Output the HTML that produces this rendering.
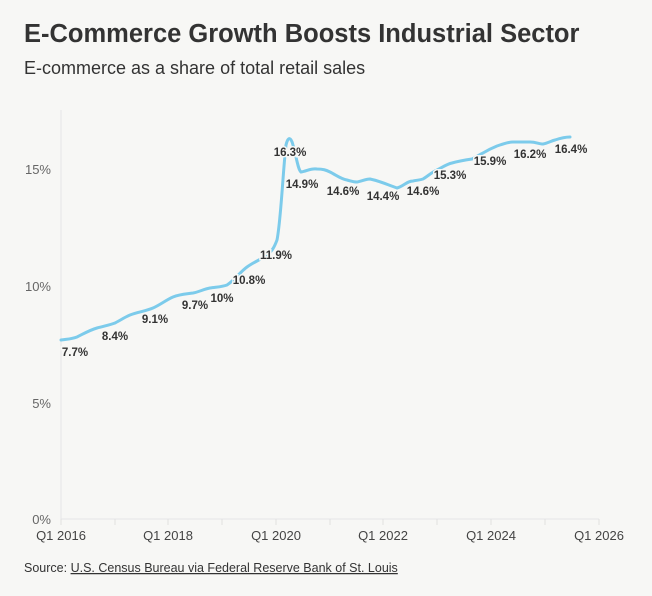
<!DOCTYPE html>
<html><head><meta charset="utf-8"><style>
body{margin:0;background:#f7f7f5;width:652px;height:591px;overflow:hidden;font-family:"Liberation Sans",sans-serif;}
</style></head><body>
<svg width="652" height="591" xmlns="http://www.w3.org/2000/svg" font-family="Liberation Sans, sans-serif">
<text x="24" y="42" font-size="25.5" font-weight="bold" fill="#333">E-Commerce Growth Boosts Industrial Sector</text>
<text x="24" y="74" font-size="18" fill="#333">E-commerce as a share of total retail sales</text>
<line x1="61" y1="110" x2="61" y2="519" stroke="#e6e6e6"/>
<line x1="61" y1="519" x2="599" y2="519" stroke="#e6e6e6"/>
<g stroke="#e0e0e0">
<line x1="61" y1="519" x2="61" y2="525"/><line x1="115" y1="519" x2="115" y2="525"/><line x1="168" y1="519" x2="168" y2="525"/><line x1="222" y1="519" x2="222" y2="525"/><line x1="276" y1="519" x2="276" y2="525"/><line x1="330" y1="519" x2="330" y2="525"/><line x1="383" y1="519" x2="383" y2="525"/><line x1="437" y1="519" x2="437" y2="525"/><line x1="491" y1="519" x2="491" y2="525"/><line x1="545" y1="519" x2="545" y2="525"/><line x1="599" y1="519" x2="599" y2="525"/>
</g>
<g font-size="13" fill="#666" text-anchor="end">
<text x="51" y="174">15%</text><text x="51" y="291">10%</text><text x="51" y="408">5%</text><text x="51" y="524">0%</text>
</g>
<g font-size="13" fill="#444" text-anchor="middle">
<text x="61" y="540">Q1 2016</text><text x="168" y="540">Q1 2018</text><text x="276" y="540">Q1 2020</text><text x="383" y="540">Q1 2022</text><text x="491" y="540">Q1 2024</text><text x="599" y="540">Q1 2026</text>
</g>
<path d="M61,340 C68,339 72,339 77,337 C85,333 90,330 97,328 C104,326 110,325 115,323 C121,320 125,317 130,315 C138,312 146,311 153,308 C160,305 166,300 173,297 C180,294 186,294 193,293 C199,292 204,289 210,288 C216,287 222,287 227,285 C235,280 240,272 247,267 C254,262 260,260 267,255 C272,251 274,248 277,240 C281,220 283,170 286,145 C288,136 291,137 293,145 C296,155 298,170 301,172 C307,171 311,168 317,169 C323,169 326,170 330,172 C336,175 341,179 347,180 C351,181 353,182 357,182 C362,181 366,179 370,179 C380,181 388,185 397,188 C404,186 407,181 413,181 C418,180 420,180 423,179 C428,176 432,172 437,170 C443,167 447,164 452,163 C459,161 465,160 472,159 C476,157 479,155 483,153 C488,150 492,148 497,146 C503,144 508,142 513,142 C519,142 524,142 530,142 C536,142 539,144 543,144 C548,143 551,141 555,140 C561,138 565,137 570,137" fill="none" stroke="#7ccbeb" stroke-width="3" stroke-linecap="round"/>
<g font-size="11.5" font-weight="bold" fill="#333" text-anchor="middle" stroke="#f7f7f5" stroke-width="3" paint-order="stroke">
<text x="75" y="356">7.7%</text><text x="115" y="340">8.4%</text><text x="155" y="323">9.1%</text><text x="195" y="309">9.7%</text><text x="222" y="302">10%</text><text x="249" y="284">10.8%</text><text x="276" y="259">11.9%</text><text x="290" y="156">16.3%</text><text x="302" y="188">14.9%</text><text x="343" y="195">14.6%</text><text x="383" y="200">14.4%</text><text x="423" y="195">14.6%</text><text x="450" y="179">15.3%</text><text x="490" y="165">15.9%</text><text x="530" y="158">16.2%</text><text x="571" y="153">16.4%</text>
</g>
<text x="24" y="572" font-size="12.5" fill="#333">Source: <tspan text-decoration="underline">U.S. Census Bureau via Federal Reserve Bank of St. Louis</tspan></text>
</svg>
</body></html>
